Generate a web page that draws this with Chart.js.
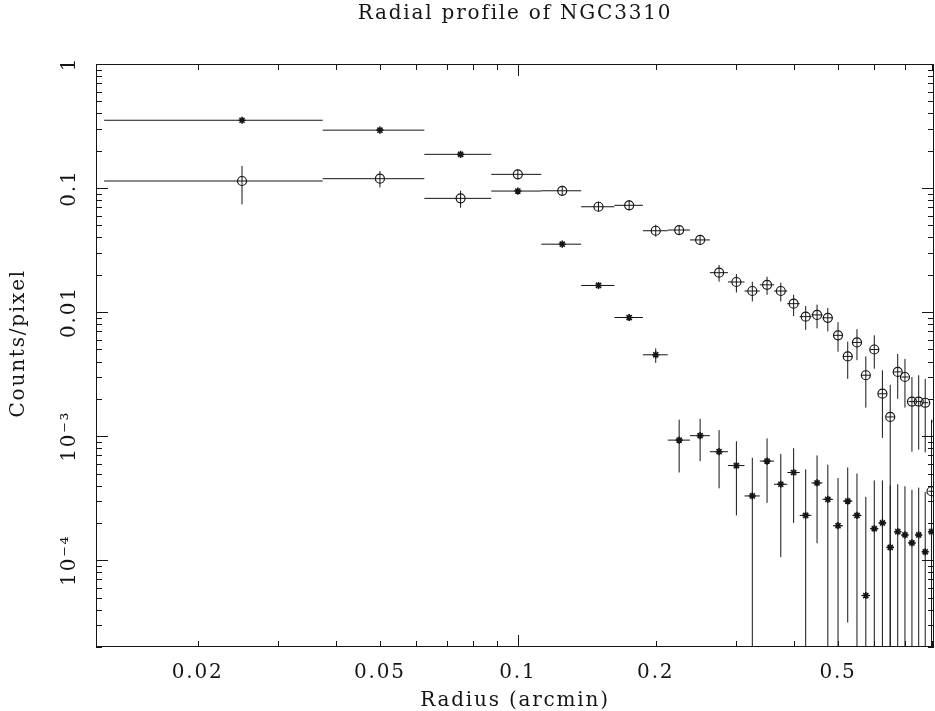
<!DOCTYPE html>
<html>
<head>
<meta charset="utf-8">
<title>Radial profile of NGC3310</title>
<script src="https://cdn.jsdelivr.net/npm/chart.js@4.4.0/dist/chart.umd.min.js"></script>
<style>
  body { margin: 0; background: #fff; }
  canvas { display: block; }
</style>
</head>
<body>
<canvas id="myChart" width="935" height="711"></canvas>
<script>
// bin centres (arcmin), every bin is 0.025 wide
const radius = [0.025, 0.05, 0.075, 0.1, 0.125, 0.15, 0.175, 0.2, 0.225, 0.25, 0.275,
	0.3, 0.325, 0.35, 0.375, 0.4, 0.425, 0.45, 0.475, 0.5, 0.525, 0.55, 0.575, 0.6,
	0.625, 0.65, 0.675, 0.7, 0.725, 0.75, 0.775, 0.8, 0.825];
const binHalf = 0.0125;

// open circles
const circleY = [0.114, 0.119, 0.0826, 0.129, 0.0951, 0.0707, 0.0726, 0.0453, 0.0459, 0.0382, 0.0208,
	0.0175, 0.0148, 0.0166, 0.0148, 0.0117, 0.0092, 0.0095, 0.0090, 0.0065, 0.0044, 0.0057, 0.0031, 0.0050,
	0.0022, 0.00143, 0.0033, 0.0030, 0.0019, 0.0019, 0.00186, 0.00036, 0.00132];
const circleHi = [0.151, 0.137, 0.0951, 0.1414, 0.1043, 0.0776, 0.0797, 0.0507, 0.0503, 0.0419, 0.0240,
	0.0203, 0.0176, 0.0193, 0.0173, 0.0138, 0.0112, 0.0115, 0.0108, 0.0083, 0.0058, 0.0073, 0.0044, 0.0065,
	0.0034, 0.0026, 0.0046, 0.0042, 0.0030, 0.0031, 0.0029, 0.00136, 0.0022];
const circleLo = [0.0739, 0.1013, 0.0694, 0.1175, 0.0866, 0.0645, 0.0662, 0.0406, 0.0419, 0.0348, 0.0176,
	0.0144, 0.0122, 0.0138, 0.0122, 0.0093, 0.0072, 0.0074, 0.0070, 0.0048, 0.0029, 0.0041, 0.0017, 0.0035,
	0.00097, 0, 0.0020, 0.0017, 0.00075, 0.00078, 0.00074, 0, 0.0005];

// asterisks (0 = error bar runs off the bottom)
const starY = [0.352, 0.293, 0.187, 0.0946, 0.0353, 0.0164, 0.00905, 0.00453, 9.3e-4, 1.01e-3, 7.5e-4,
	5.8e-4, 3.3e-4, 6.3e-4, 4.1e-4, 5.1e-4, 2.3e-4, 4.2e-4, 3.1e-4, 1.9e-4, 3.0e-4, 2.3e-4, 5.2e-5, 1.8e-4,
	2.0e-4, 1.27e-4, 1.7e-4, 1.6e-4, 1.38e-4, 1.6e-4, 1.17e-4, 1.7e-4];
const starHi = [0.362, 0.300, 0.192, 0.0975, 0.0365, 0.0172, 0.0096, 0.0051, 1.36e-3, 1.38e-3, 1.12e-3,
	9.1e-4, 6.7e-4, 9.6e-4, 7.2e-4, 8.0e-4, 5.4e-4, 7.0e-4, 5.9e-4, 4.6e-4, 5.6e-4, 5.0e-4, 3.25e-4, 4.4e-4,
	4.4e-4, 4.0e-4, 4.1e-4, 3.95e-4, 3.7e-4, 3.85e-4, 3.55e-4, 4.1e-4];
const starLo = [0.342, 0.286, 0.182, 0.0918, 0.0341, 0.0156, 0.0085, 0.0039, 5.1e-4, 6.3e-4, 3.8e-4,
	2.3e-4, 0, 2.9e-4, 1.06e-4, 2.0e-4, 0, 1.37e-4, 0, 0, 3.15e-5, 0, 0, 0,
	0, 0, 0, 0, 0, 0, 0, 0];

const xLabelValues = [0.02, 0.05, 0.1, 0.2, 0.5];
const xLabelText = ['0.02', '0.05', '0.1', '0.2', '0.5'];
const yLabelValues = [1, 0.1, 0.01, 0.001, 0.0001];
const yLabelText = ['1', '0.1', '0.01', '10\u207B\u00B3', '10\u207B\u2074'];

const ink = '#151515';

function sameLog(a, b) {
	return Math.abs(Math.log10(a) - Math.log10(b)) < 1e-6;
}

function isWhole(v) {
	const s = v / Math.pow(10, Math.floor(Math.log10(v) + 1e-9));
	return Math.abs(s - Math.round(s)) < 1e-6;
}

function isDecade(v) {
	const l = Math.log10(v);
	return Math.abs(l - Math.round(l)) < 1e-6;
}

function keepWholeTicks(scale) {
	scale.ticks = scale.ticks.filter(t => isWhole(t.value));
}

function points(ys, his, los) {
	return ys.map((v, i) => ({
		x: radius[i],
		y: v,
		xMin: radius[i] - binHalf,
		xMax: radius[i] + binHalf,
		yMin: los[i],
		yMax: his[i]
	}));
}

// the old plotting font is wide, so open the letters up a little
const spacing = {
	id: 'spacing',
	beforeUpdate(chart) { chart.ctx.letterSpacing = '1.8px'; },
	beforeDraw(chart) { chart.ctx.letterSpacing = '1.8px'; }
};

// horizontal bin width + vertical error, drawn under the markers
const errorBars = {
	id: 'errorBars',
	beforeDatasetsDraw(chart) {
		const { ctx, chartArea: a, scales: { x, y } } = chart;
		ctx.save();
		ctx.beginPath();
		ctx.rect(a.left, a.top, a.right - a.left, a.bottom - a.top);
		ctx.clip();
		ctx.strokeStyle = ink;
		ctx.lineWidth = 1;
		chart.data.datasets.forEach(ds => {
			ds.data.forEach(p => {
				const px = x.getPixelForValue(p.x);
				const py = y.getPixelForValue(p.y);
				ctx.beginPath();
				ctx.moveTo(x.getPixelForValue(p.xMin), py);
				ctx.lineTo(x.getPixelForValue(p.xMax), py);
				ctx.moveTo(px, y.getPixelForValue(p.yMax));
				ctx.lineTo(px, y.getPixelForValue(p.yMin));
				ctx.stroke();
			});
		});
		ctx.restore();
	}
};

// box with inward ticks on all four sides
const frame = {
	id: 'frame',
	afterDraw(chart) {
		const { ctx, chartArea: a, scales: { x, y } } = chart;
		ctx.save();
		ctx.strokeStyle = ink;
		ctx.lineWidth = 1;
		ctx.strokeRect(a.left + 0.5, a.top + 0.5, a.right - a.left - 1, a.bottom - a.top - 1);
		ctx.beginPath();
		x.ticks.forEach(t => {
			const px = Math.round(x.getPixelForValue(t.value)) + 0.5;
			const len = isDecade(t.value) ? 12 : 6;
			ctx.moveTo(px, a.bottom);
			ctx.lineTo(px, a.bottom - len);
			ctx.moveTo(px, a.top);
			ctx.lineTo(px, a.top + len);
		});
		y.ticks.forEach(t => {
			const py = Math.round(y.getPixelForValue(t.value)) + 0.5;
			const len = isDecade(t.value) ? 12 : 6;
			ctx.moveTo(a.left, py);
			ctx.lineTo(a.left + len, py);
			ctx.moveTo(a.right, py);
			ctx.lineTo(a.right - len, py);
		});
		ctx.stroke();
		ctx.restore();
	}
};

Chart.defaults.font.family = "'DejaVu Serif', serif";
Chart.defaults.color = ink;

const config = {
	type: 'scatter',
	data: {
		datasets: [
			{
				label: 'circles',
				data: points(circleY, circleHi, circleLo),
				pointStyle: 'circle',
				pointRadius: 4.5,
				borderWidth: 1.2,
				borderColor: ink,
				backgroundColor: 'rgba(0,0,0,0)'
			},
			{
				label: 'asterisks',
				data: points(starY, starHi, starLo),
				pointStyle: 'star',
				pointRadius: 3.6,
				borderWidth: 1.6,
				borderColor: ink,
				backgroundColor: ink
			}
		]
	},
	options: {
		responsive: false,
		animation: false,
		events: [],
		layout: { autoPadding: false, padding: { left: 0, right: 1, top: 0, bottom: 0 } },
		plugins: {
			legend: { display: false },
			tooltip: { enabled: false },
			title: {
				display: true,
				text: 'Radial profile of NGC3310',
				fullSize: false,
				color: ink,
				font: { size: 20, weight: 'normal' },
				padding: { top: 2, bottom: 38 }
			}
		},
		scales: {
			x: {
				type: 'logarithmic',
				min: 0.012,
				max: 0.81,
				afterBuildTicks: keepWholeTicks,
				afterFit(scale) {
					scale.height = 64;
					scale.paddingLeft = 0;
					scale.paddingRight = 0;
				},
				grid: { display: false, drawTicks: false },
				border: { display: false },
				ticks: {
					autoSkip: false,
					maxRotation: 0,
					minRotation: 0,
					padding: 14,
					font: { size: 20 },
					callback(v) {
						const i = xLabelValues.findIndex(l => sameLog(l, v));
						return i < 0 ? '' : xLabelText[i];
					}
				},
				title: {
					display: true,
					text: 'Radius (arcmin)',
					font: { size: 20 },
					padding: { top: 0, bottom: -2 }
				}
			},
			y: {
				type: 'logarithmic',
				min: 2e-5,
				max: 1,
				afterBuildTicks: keepWholeTicks,
				afterFit(scale) {
					scale.width = 96;
					scale.paddingTop = 0;
					scale.paddingBottom = 0;
				},
				grid: { display: false, drawTicks: false },
				border: { display: false },
				ticks: {
					autoSkip: false,
					minRotation: 90,
					maxRotation: 90,
					crossAlign: 'center',
					padding: 0,
					font: { size: 20 },
					callback(v) {
						const i = yLabelValues.findIndex(l => sameLog(l, v));
						return i < 0 ? '' : yLabelText[i];
					}
				},
				title: {
					display: true,
					// leading spaces lift the label a little, as in the original
					text: '   Counts/pixel',
					font: { size: 20 },
					padding: { top: 7, bottom: 0 }
				}
			}
		}
	},
	plugins: [spacing, errorBars, frame]
};

new Chart(document.getElementById('myChart'), config);
</script>
</body>
</html>
